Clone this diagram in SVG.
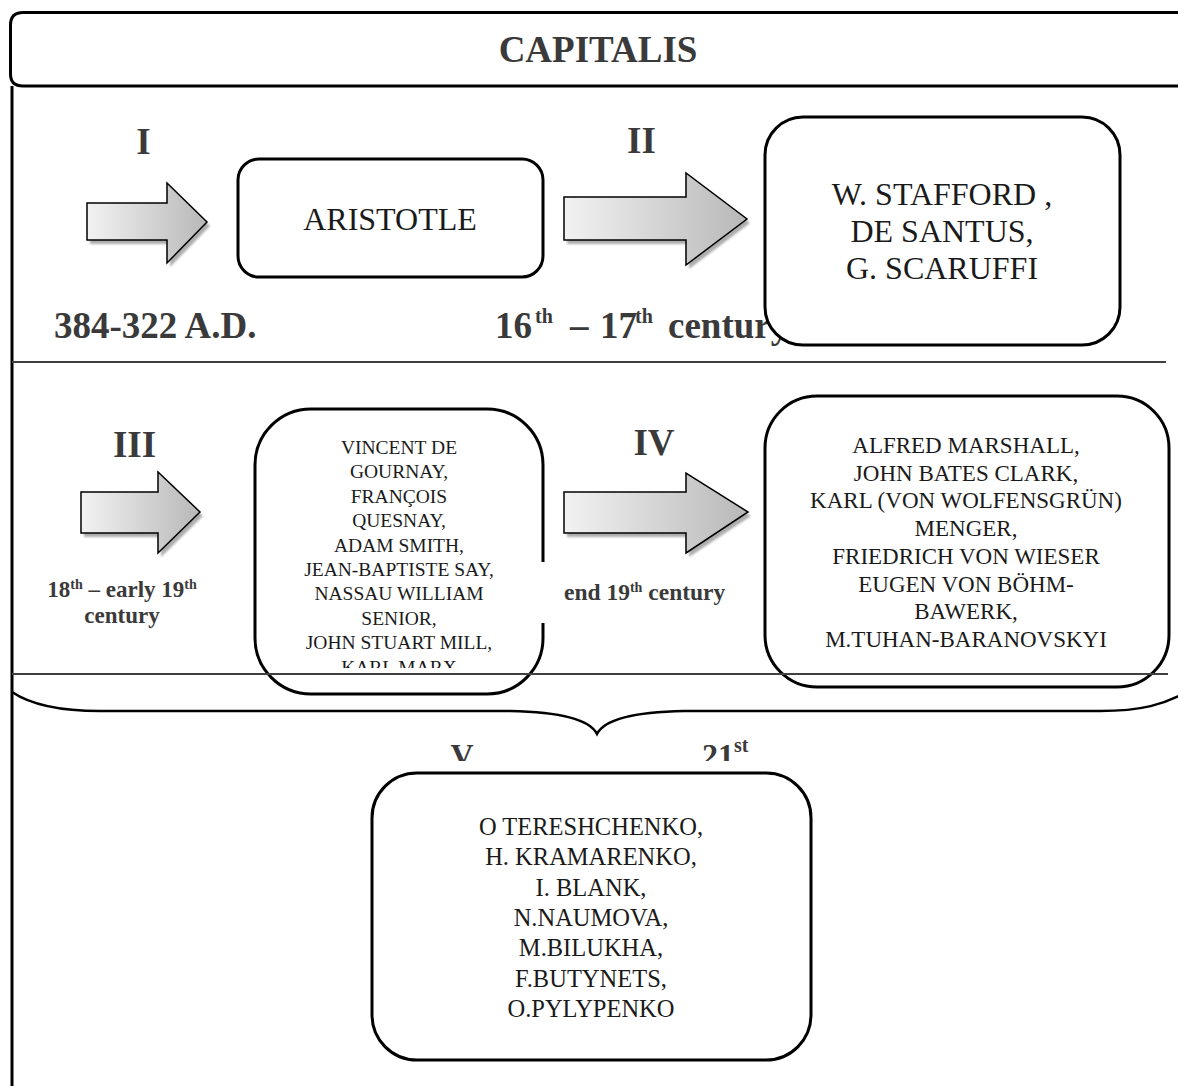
<svg xmlns="http://www.w3.org/2000/svg" width="1178" height="1086" viewBox="0 0 1178 1086">
<style>
.box{fill:#fff;stroke:#000;stroke-width:3}
.arrow{fill:url(#ag);stroke:#000;stroke-width:1.5;stroke-linejoin:miter}
.shadow{fill:#8a8a8a;opacity:0.7;filter:url(#blur)}
.lbl{font-family:"Liberation Serif","Times New Roman",serif;font-weight:bold;fill:#3a3a3a}
.nm{font-family:"Liberation Serif","Times New Roman",serif;fill:#1a1a1a;text-anchor:middle}
.div{stroke:#404040;stroke-width:2}
</style>
<defs>
<linearGradient id="ag" x1="0" y1="0" x2="1" y2="0">
<stop offset="0" stop-color="#f2f2f2"/>
<stop offset="1" stop-color="#b8b8b8"/>
</linearGradient>
<filter id="blur" x="-10%" y="-10%" width="130%" height="130%"><feGaussianBlur stdDeviation="1.2"/></filter>
<clipPath id="clipIII"><rect x="250" y="400" width="300" height="268"/></clipPath>
<clipPath id="clipV"><rect x="400" y="720" width="400" height="41"/></clipPath>
</defs>
<rect width="1178" height="1086" fill="#fff"/>

<g id="frame">
<path d="M1195,12.5 H23 Q10.5,12.5 10.5,25 V74 Q10.5,86 23,86 H1195" fill="none" stroke="#000" stroke-width="3"/>
<line x1="12" y1="86" x2="12" y2="1086" stroke="#000" stroke-width="3"/>
<line class="div" x1="12" y1="362" x2="1166" y2="362"/>
<text id="title" class="lbl" x="598" y="62" font-size="37" text-anchor="middle" fill="#222">CAPITALIS</text>
</g>

<g id="connectors">
<g id="arrow-I">
<polygon class="shadow" transform="translate(3,4)" points="87,203 167,203 167,183 207,222 167,263 167,240 87,240"/>
<polygon class="arrow" points="87,203 167,203 167,183 207,222 167,263 167,240 87,240"/>
</g>
<g id="arrow-II">
<polygon class="shadow" transform="translate(3,4)" points="564,197 686,197 686,173 747,219 686,265 686,240 564,240"/>
<polygon class="arrow" points="564,197 686,197 686,173 747,219 686,265 686,240 564,240"/>
</g>
<g id="arrow-III">
<polygon class="shadow" transform="translate(3,4)" points="81,492 158,492 158,472 200,512 158,553 158,533 81,533"/>
<polygon class="arrow" points="81,492 158,492 158,472 200,512 158,553 158,533 81,533"/>
</g>
<g id="arrow-IV">
<polygon class="shadow" transform="translate(3,4)" points="564,492 686,492 686,473 748,512 686,553 686,533 564,533"/>
<polygon class="arrow" points="564,492 686,492 686,473 748,512 686,553 686,533 564,533"/>
</g>
<path id="brace" d="M12,692 Q40,711 100,711 L510,711 C560,712 590,720 597,734 C604,720 634,712 684,711 L1100,711 C1140,711 1165,705 1190,690" fill="none" stroke="#000" stroke-width="2.5"/>
</g>

<g id="stage-I">
<text class="lbl" x="143.5" y="154" font-size="37" text-anchor="middle">I</text>
<text class="lbl" x="54" y="338" font-size="37">384-322 A.D.</text>
</g>

<g id="node-aristotle">
<rect class="box" x="238" y="159" width="305" height="118" rx="21"/>
<text class="nm" x="390" y="230" font-size="32">ARISTOTLE</text>
</g>

<g id="stage-II">
<text class="lbl" x="641.5" y="153" font-size="37" text-anchor="middle">II</text>
<text class="lbl" x="495" y="338" font-size="37">16</text>
<text class="lbl" x="535" y="323" font-size="20">th</text>
<text class="lbl" x="570" y="338" font-size="37">–</text>
<text class="lbl" x="600" y="338" font-size="37">17</text>
<text class="lbl" x="635" y="323" font-size="20">th</text>
<text class="lbl" x="668" y="338" font-size="37">century</text>
</g>

<g id="node-stafford">
<rect class="box" x="765" y="117" width="355" height="228" rx="38"/>
<text class="nm" x="942" y="205" font-size="32" fill="#3a3a3a">W. STAFFORD ,</text>
<text class="nm" x="942" y="242" font-size="32" fill="#3a3a3a">DE SANTUS,</text>
<text class="nm" x="942" y="279" font-size="32" fill="#111">G. SCARUFFI</text>
</g>

<g id="stage-III">
<text class="lbl" x="134.5" y="457" font-size="37" text-anchor="middle">III</text>
<text class="lbl" x="122" y="597" font-size="23" text-anchor="middle">18<tspan font-size="14" dy="-8">th</tspan><tspan dy="8"> – early 19</tspan><tspan font-size="14" dy="-8">th</tspan></text>
<text class="lbl" x="122" y="623" font-size="23" text-anchor="middle">century</text>
</g>

<g id="node-classics">
<rect class="box" x="255" y="409" width="288" height="285" rx="56"/>
<g clip-path="url(#clipIII)" font-size="19.5">
<text class="nm" x="399" y="454">VINCENT DE</text>
<text class="nm" x="399" y="478.4">GOURNAY,</text>
<text class="nm" x="399" y="502.8">FRANÇOIS</text>
<text class="nm" x="399" y="527.2">QUESNAY,</text>
<text class="nm" x="399" y="551.6">ADAM SMITH,</text>
<text class="nm" x="399" y="576">JEAN-BAPTISTE SAY,</text>
<text class="nm" x="399" y="600.4">NASSAU WILLIAM</text>
<text class="nm" x="399" y="624.8">SENIOR,</text>
<text class="nm" x="399" y="649.2">JOHN STUART MILL,</text>
<text class="nm" x="399" y="673.6">KARL MARX</text>
</g>
</g>

<g id="stage-IV">
<rect x="540" y="562" width="195" height="61" fill="#fff"/>
<text class="lbl" x="654" y="455" font-size="37" text-anchor="middle">IV</text>
<text class="lbl" x="564" y="600" font-size="23.5">end 19<tspan font-size="14" dy="-8">th</tspan><tspan dy="8"> century</tspan></text>
</g>

<g id="node-neoclassics">
<rect class="box" x="765" y="396" width="404" height="291" rx="52"/>
<g font-size="23">
<text class="nm" x="966" y="453">ALFRED MARSHALL,</text>
<text class="nm" x="966" y="480.7">JOHN BATES CLARK,</text>
<text class="nm" x="966" y="508.4">KARL (VON WOLFENSGRÜN)</text>
<text class="nm" x="966" y="536.1">MENGER,</text>
<text class="nm" x="966" y="563.8">FRIEDRICH VON WIESER</text>
<text class="nm" x="966" y="591.5">EUGEN VON BÖHM-</text>
<text class="nm" x="966" y="619.2">BAWERK,</text>
<text class="nm" x="966" y="646.9">M.TUHAN-BARANOVSKYI</text>
</g>
</g>

<line class="div" x1="12" y1="674" x2="1168" y2="674"/>

<g id="stage-V" clip-path="url(#clipV)">
<text class="lbl" x="462" y="766" font-size="32" text-anchor="middle">V</text>
<text class="lbl" x="702" y="766" font-size="32">21<tspan font-size="20" dy="-14">st</tspan></text>
</g>

<g id="node-modern">
<rect class="box" x="372" y="773" width="439" height="287" rx="45"/>
<g font-size="24.5">
<text class="nm" x="591" y="835">O TERESHCHENKO,</text>
<text class="nm" x="591" y="865.3">H. KRAMARENKO,</text>
<text class="nm" x="591" y="895.6">I. BLANK,</text>
<text class="nm" x="591" y="925.9">N.NAUMOVA,</text>
<text class="nm" x="591" y="956.2">M.BILUKHA,</text>
<text class="nm" x="591" y="986.5">F.BUTYNETS,</text>
<text class="nm" x="591" y="1016.8">O.PYLYPENKO</text>
</g>
</g>
</svg>
